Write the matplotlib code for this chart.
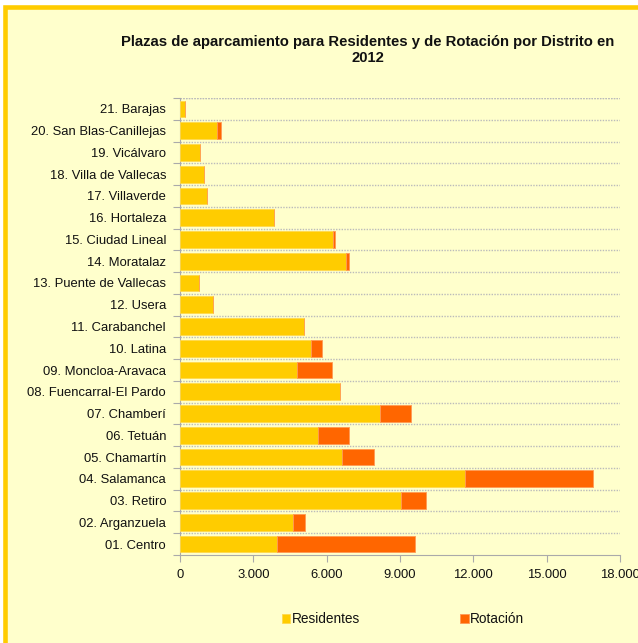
import matplotlib
matplotlib.use("Agg")
import matplotlib.pyplot as plt
import numpy as np
from matplotlib.patches import Rectangle
from matplotlib.ticker import FuncFormatter

plt.rcParams['font.family'] = ['Liberation Sans', 'DejaVu Sans']

districts = ["01. Centro", "02. Arganzuela", "03. Retiro", "04. Salamanca", "05. Chamartín",
             "06. Tetuán", "07. Chamberí", "08. Fuencarral-El Pardo", "09. Moncloa-Aravaca",
             "10. Latina", "11. Carabanchel", "12. Usera", "13. Puente de Vallecas",
             "14. Moratalaz", "15. Ciudad Lineal", "16. Hortaleza", "17. Villaverde",
             "18. Villa de Vallecas", "19. Vicálvaro", "20. San Blas-Canillejas", "21. Barajas"]
residentes = [3980, 4625, 9030, 11660, 6615, 5645, 8180, 6530, 4790, 5375, 5090, 1336, 765,
              6790, 6260, 3850, 1120, 980, 830, 1500, 205]
rotacion = [5635, 490, 1035, 5225, 1325, 1285, 1270, 0, 1415, 435, 0, 0, 0,
            125, 80, 0, 0, 0, 0, 180, 0]
xticks = [0, 3000, 6000, 9000, 12000, 15000, 18000]

bg = '#FFFFCC'
fig = plt.figure(figsize=(6.38, 6.43), dpi=100, facecolor='white')
fig.patches.append(Rectangle((4.7/638, -0.1), 1.2, 1 - 7/643 + 0.1, transform=fig.transFigure,
                             facecolor=bg, edgecolor='#FFCC00', linewidth=3.3, zorder=-10))

ax = fig.add_axes([180/638, 1 - 555/643, 440/638, (555 - 98)/643])
ax.set_zorder(1)
ax.set_facecolor(bg)
y = np.arange(len(districts))
ax.barh(y, residentes, height=0.77, color='#FFCC00', edgecolor='#FFD94D', linewidth=0.6,
        label='Residentes', zorder=3)
ax.barh(y, rotacion, left=residentes, height=0.77, color='#FF6600', edgecolor='#FF9955',
        linewidth=0.6, label='Rotación', zorder=3)

ax.set_xlim(0, 18000)
ax.set_ylim(-0.5, len(districts) - 0.5)
ax.set_xticks(xticks)
ax.xaxis.set_major_formatter(FuncFormatter(lambda v, p: f"{int(v):,}".replace(",", ".")))
ax.set_yticks(y)
ax.set_yticklabels(districts)
ax.set_yticks(np.arange(-0.5, len(districts)), minor=True)
ax.tick_params(axis='y', which='major', length=0, pad=10, labelsize=9.4, labelcolor='#111111')
ax.tick_params(axis='y', which='minor', length=5, color='#AAAAAA', width=0.8)
ax.tick_params(axis='x', which='major', length=5, color='#AAAAAA', width=0.8, labelsize=9.4,
               labelcolor='#111111', pad=5)
for b in np.arange(0.5, len(districts)):
    ax.axhline(b, color='#BBBBBB', linestyle=(0, (1, 1)), linewidth=1.0, zorder=1)
ax.axhline(len(districts) - 0.5, color='#BBBBBB', linestyle=(0, (1, 1)), linewidth=1.0, zorder=1)
for s in ['top', 'right']:
    ax.spines[s].set_visible(False)
for s in ['left', 'bottom']:
    ax.spines[s].set_color('#AAAAAA')
    ax.spines[s].set_linewidth(0.8)

fig.text(368/638, 1 - 50/643, "Plazas de aparcamiento para Residentes y de Rotación por Distrito en\n2012",
         ha='center', va='center', fontsize=10.7, fontweight='bold', color='#111111', linespacing=1.15)

leg = fig.legend(loc='center', bbox_to_anchor=(403/638, 1 - 619/643), ncol=2, frameon=False,
                 fontsize=9.8, handlelength=0.6, handleheight=0.6, handletextpad=0.1,
                 columnspacing=7.4)
for t in leg.get_texts():
    t.set_color('#111111')

fig.savefig("out.png", dpi=100, facecolor='white')
